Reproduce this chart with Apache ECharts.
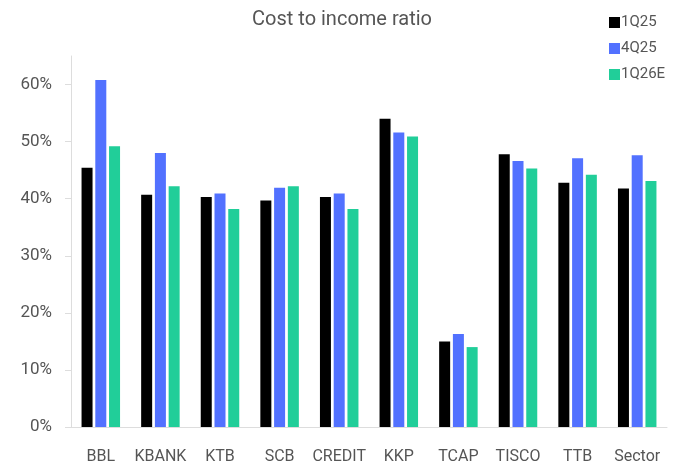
<!DOCTYPE html>
<html>
<head>
<meta charset="utf-8">
<script src="https://cdn.jsdelivr.net/npm/echarts@6/dist/echarts.min.js"></script>
<style>
    html, body { margin: 0; padding: 0; background: #fff; }
    #chart { width: 684px; height: 466px; }
</style>
</head>
<body>
<div id="chart"></div>
<script>
    // 各银行成本收入比
    var banks = ['BBL', 'KBANK', 'KTB', 'SCB', 'CREDIT', 'KKP', 'TCAP', 'TISCO', 'TTB', 'Sector'];
    var q1_25 = [45.4, 40.7, 40.3, 39.7, 40.3, 54.0, 15.0, 47.8, 42.8, 41.8];
    var q4_25 = [60.8, 48.0, 40.9, 41.9, 40.9, 51.6, 16.3, 46.6, 47.1, 47.6];
    var q1_26e = [49.2, 42.2, 38.2, 42.2, 38.2, 50.9, 14.0, 45.3, 44.2, 43.1];
    var yTicks = [0, 10, 20, 30, 40, 50, 60];

    var myChart = echarts.init(document.getElementById('chart'));

    var option = {
        animation: false,
        textStyle: {
            fontFamily: 'Roboto'
        },
        title: {
            text: 'Cost to income ratio',
            left: 'center',
            top: 5,
            textStyle: {
                fontSize: 20,
                fontWeight: 'normal',
                color: '#555'
            }
        },
        legend: {
            orient: 'vertical',
            left: 604,
            top: 10,
            itemWidth: 11,
            itemHeight: 11,
            itemGap: 11,
            icon: 'rect',
            textStyle: {
                fontSize: 15,
                color: '#555',
                padding: [0, 0, 0, -4]
            },
            data: ['1Q25', '4Q25', '1Q26E']
        },
        grid: {
            left: 71,
            right: 17,
            top: 56,
            bottom: 39
        },
        xAxis: {
            type: 'category',
            data: banks,
            axisTick: { show: false },
            axisLine: {
                lineStyle: { color: '#ddd' }
            },
            axisLabel: {
                interval: 0,
                color: '#555',
                fontSize: 16,
                margin: 22
            }
        },
        yAxis: {
            type: 'value',
            min: 0,
            max: 65,
            interval: 10,
            splitLine: { show: false },
            axisLine: {
                show: true,
                lineStyle: { color: '#ddd' }
            },
            axisTick: {
                show: true,
                length: 6,
                customValues: yTicks,
                lineStyle: { color: '#ddd' }
            },
            axisLabel: {
                color: '#555',
                fontSize: 17,
                margin: 19,
                customValues: yTicks,
                formatter: '{value}%'
            }
        },
        series: [
            {
                name: '1Q25',
                type: 'bar',
                barWidth: 11,
                barGap: '25%',
                itemStyle: { color: '#000000' },
                data: q1_25
            },
            {
                name: '4Q25',
                type: 'bar',
                barWidth: 11,
                barGap: '25%',
                itemStyle: { color: '#5271ff' },
                data: q4_25
            },
            {
                name: '1Q26E',
                type: 'bar',
                barWidth: 11,
                barGap: '25%',
                itemStyle: { color: '#21ce99' },
                data: q1_26e
            }
        ]
    };

    myChart.setOption(option);
</script>
</body>
</html>
